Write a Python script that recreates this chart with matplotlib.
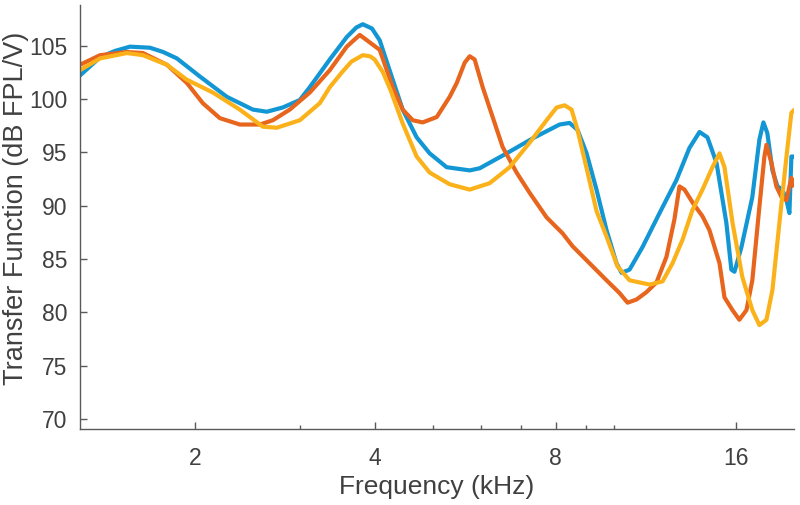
import numpy as np
import matplotlib
matplotlib.use('Agg')
import matplotlib.pyplot as plt
from matplotlib.ticker import FixedLocator, NullFormatter

plt.rcParams['font.family'] = ['Liberation Sans', 'DejaVu Sans']

# frequency in kHz, transfer function in dB FPL/V
freq_blue = [1.286, 1.389, 1.471, 1.558, 1.683, 1.77, 1.866, 2.039, 2.261, 2.499, 2.637,
             2.804, 2.993, 3.110, 3.359, 3.585, 3.72, 3.813, 3.95, 4.069, 4.278, 4.445,
             4.690, 4.930, 5.263, 5.751, 5.976, 6.629, 7.324, 8.123, 8.442, 8.703,
             9.012, 9.362, 9.730, 10.11, 10.31, 10.63, 11.17, 11.93, 12.73, 13.38,
             13.91, 14.34, 14.85, 15.42, 15.72, 15.91, 16.34, 17.04, 17.51, 17.78,
             18.05, 18.41, 18.77, 19.13, 19.43, 19.65, 19.80, 19.96]
tf_blue = [102.2, 103.9, 104.5, 104.9, 104.8, 104.4, 103.8, 102.1, 100.2, 99.0, 98.8,
           99.2, 99.9, 101.1, 103.7, 105.8, 106.7, 107.0, 106.6, 105.5, 101.8, 99.0,
           96.4, 94.9, 93.6, 93.3, 93.5, 94.9, 96.3, 97.6, 97.75, 97.1,
           94.9, 91.5, 87.7, 84.6, 83.7, 84.0, 86.1, 89.3, 92.4, 95.4,
           96.9, 96.4, 94.0, 88.4, 84.0, 83.8, 86.1, 90.8, 96.2, 97.8,
           96.8, 93.3, 91.8, 91.5, 90.5, 89.3, 94.6, 94.6]

freq_orange = [1.286, 1.389, 1.540, 1.638, 1.796, 1.939, 2.062, 2.201, 2.377, 2.567,
               2.698, 2.880, 3.110, 3.359, 3.585, 3.769, 4.069, 4.278, 4.445, 4.621,
               4.800, 5.066, 5.325, 5.472, 5.641, 5.751, 5.861, 6.045, 6.281, 6.526,
               6.886, 7.240, 7.727, 8.218, 8.537, 9.114, 9.730, 10.23, 10.55, 10.92,
               11.35, 11.79, 12.25, 12.63, 12.88, 13.13, 13.54, 14.07, 14.45, 15.02,
               15.31, 15.79, 16.21, 16.66, 17.04, 17.51, 17.85, 17.99, 18.34, 18.69,
               19.06, 19.43, 19.65, 19.80, 19.96]
tf_orange = [103.2, 104.1, 104.4, 104.3, 103.2, 101.5, 99.6, 98.2, 97.6, 97.6,
             98.0, 99.0, 100.6, 102.7, 104.9, 106.0, 104.6, 101.1, 99.0, 98.0,
             97.8, 98.3, 100.2, 101.5, 103.4, 104.0, 103.7, 101.1, 98.3, 95.5,
             93.1, 91.2, 88.9, 87.4, 86.2, 84.6, 83.0, 81.8, 80.9, 81.2,
             81.9, 82.8, 85.2, 88.7, 91.8, 91.5, 90.3, 89.0, 87.7, 84.6,
             81.4, 80.2, 79.3, 80.2, 83.0, 89.9, 94.6, 95.7, 94.0, 91.8,
             90.8, 90.5, 91.8, 92.6, 91.9]

freq_yellow = [1.286, 1.389, 1.540, 1.638, 1.796, 1.939, 2.143, 2.377, 2.597, 2.739,
               2.993, 3.232, 3.359, 3.52, 3.65, 3.813, 3.92, 3.99, 4.12, 4.244, 4.445,
               4.690, 4.930, 5.325, 5.751, 6.208, 6.705, 7.240, 7.727, 8.033, 8.281,
               8.507, 8.703, 9.012, 9.362, 9.730, 10.15, 10.63, 11.04, 11.48, 12.07,
               12.54, 13.03, 13.54, 14.07, 14.62, 15.02, 15.31, 15.79, 16.40, 17.04,
               17.51, 17.99, 18.41, 18.91, 19.43, 19.80, 19.96]
tf_yellow = [102.7, 103.8, 104.3, 104.1, 103.2, 101.8, 100.6, 99.0, 97.4, 97.3,
             98.0, 99.6, 101.1, 102.5, 103.5, 104.1, 104.0, 103.7, 102.5, 100.8, 97.7,
             94.6, 93.1, 92.0, 91.5, 92.1, 93.6, 95.9, 98.0, 99.2, 99.4,
             99.0, 97.1, 93.5, 89.5, 87.1, 84.3, 83.0, 82.8, 82.6, 82.9,
             84.6, 86.8, 89.6, 91.5, 93.6, 94.9, 93.6, 88.4, 83.3, 80.2,
             78.8, 79.3, 82.1, 88.4, 94.6, 98.7, 98.9]

major_ticks = [2, 4, 8, 16]
minor_ticks = [3, 5, 6, 7, 9, 10]

text_col = '#404040'
axis_col = '#5a5a5a'

fig = plt.figure(figsize=(8, 5.05), dpi=100)
ax = fig.add_axes([0.1, 0.1505, 0.8925, 0.8395])

ax.plot(freq_blue, tf_blue, color='#1296D4', lw=3.0, solid_joinstyle='round')
ax.plot(freq_orange, tf_orange, color='#E8651D', lw=3.0, solid_joinstyle='round')
ax.plot(freq_yellow, tf_yellow, color='#FBB21A', lw=3.0, solid_joinstyle='round')

ax.set_xscale('log')
ax.set_xlim(1.286, 20)
ax.set_ylim(69.06, 108.8)
ax.xaxis.set_major_locator(FixedLocator(major_ticks))
ax.set_xticklabels([str(t) for t in major_ticks])
ax.xaxis.set_minor_locator(FixedLocator(minor_ticks))
ax.xaxis.set_minor_formatter(NullFormatter())
ax.set_yticks([70, 75, 80, 85, 90, 95, 100, 105])

for side in ['top', 'right']:
    ax.spines[side].set_visible(False)
for side in ['left', 'bottom']:
    ax.spines[side].set_color(axis_col)
    ax.spines[side].set_linewidth(1.0)

ax.tick_params(which='major', direction='in', length=5, width=1, color=axis_col,
               labelsize=16.5, labelcolor=text_col)
ax.tick_params(axis='x', which='major', pad=13)
ax.tick_params(axis='y', which='major', pad=9)
ax.tick_params(axis='x', which='minor', direction='in', length=3, width=1, color=axis_col)

ax.set_xlabel('Frequency (kHz)', fontsize=19, color=text_col)
ax.set_ylabel('Transfer Function (dB FPL/V)', fontsize=19.5, color=text_col)
ax.xaxis.set_label_coords(0.5, -0.108)
ax.yaxis.set_label_coords(-0.072, 0.52)

fig.savefig('out.png', dpi=100)
